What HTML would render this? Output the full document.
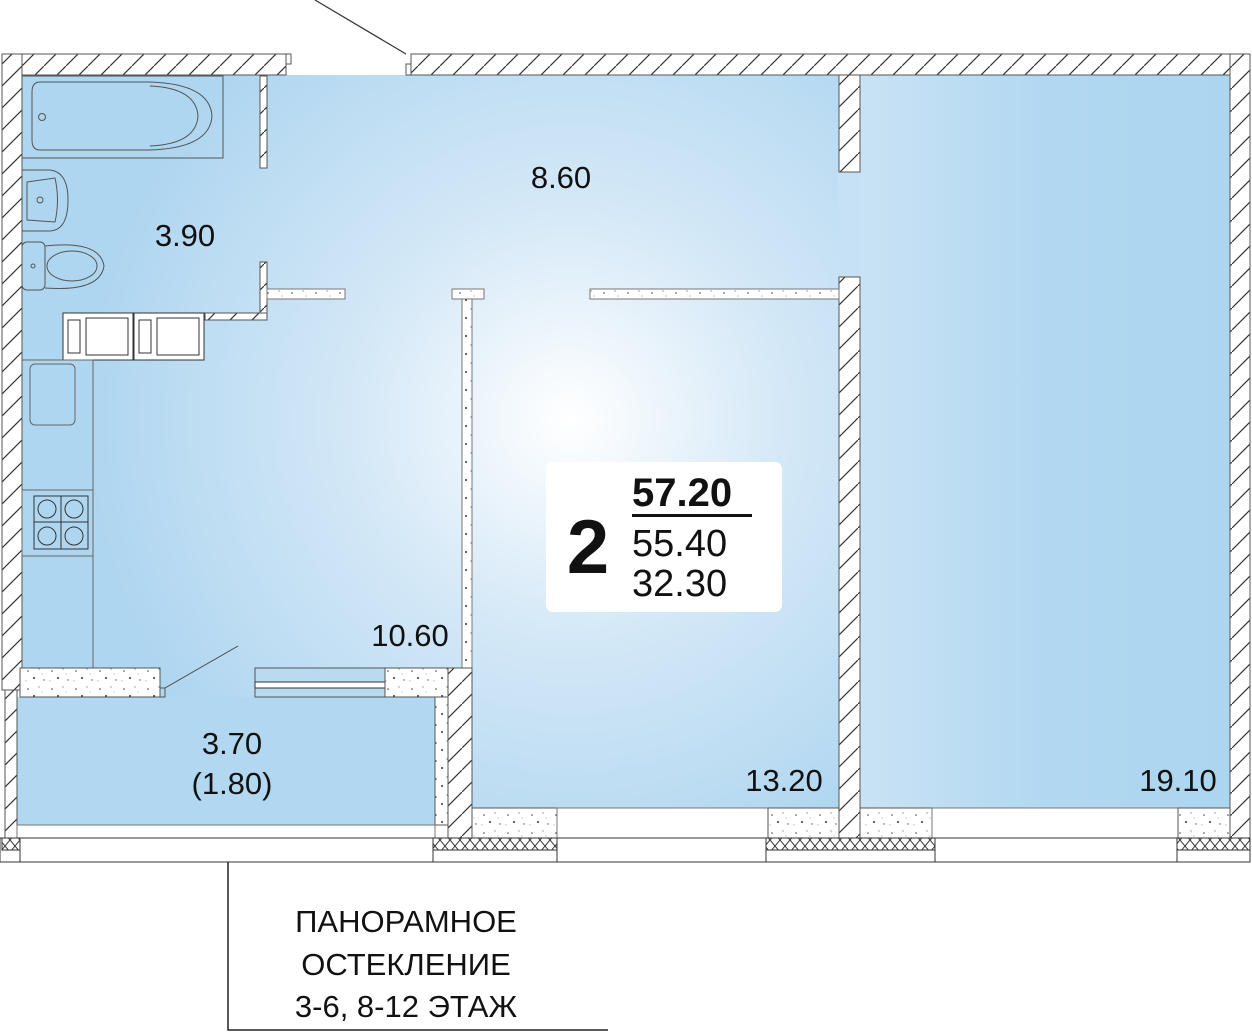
<!DOCTYPE html>
<html><head><meta charset="utf-8"><style>
html,body{margin:0;padding:0;background:#fff;width:1252px;height:1032px;overflow:hidden}
svg{display:block}
text{font-family:"Liberation Sans","DejaVu Sans",sans-serif;fill:#111}
</style></head><body>
<svg width="1252" height="1032" viewBox="0 0 1252 1032" xmlns="http://www.w3.org/2000/svg">
<defs>
<pattern id="h" patternUnits="userSpaceOnUse" width="22" height="22"><rect width="22" height="22" fill="#fff"/><path d="M-2 24 L24 -2" stroke="#333" stroke-width="1.2"/></pattern>
<pattern id="x" patternUnits="userSpaceOnUse" width="10" height="12"><rect width="10" height="12" fill="#fff"/><path d="M0 0 L10 12 M10 0 L0 12" stroke="#333" stroke-width="1"/></pattern>
<pattern id="c" patternUnits="userSpaceOnUse" width="24" height="18"><rect width="24" height="18" fill="#fff"/><circle cx="4" cy="5" r=".8" fill="#444"/><circle cx="15" cy="3" r=".6" fill="#666"/><circle cx="10" cy="12" r="1" fill="#333"/><circle cx="20" cy="14" r=".7" fill="#555"/><circle cx="2" cy="15" r=".5" fill="#777"/><circle cx="18" cy="8" r=".5" fill="#777"/></pattern>
<radialGradient id="g" cx="570" cy="420" r="480" gradientUnits="userSpaceOnUse"><stop offset="0" stop-color="#ffffff"/><stop offset=".45" stop-color="#d4e8f7"/><stop offset="1" stop-color="#afd6f0"/></radialGradient>
<linearGradient id="g2" x1="0" x2="1" y1="0" y2="0"><stop offset="0" stop-color="#c9e2f5"/><stop offset=".5" stop-color="#b2d8f1"/><stop offset="1" stop-color="#acd5f0"/></linearGradient>
</defs>
<!-- fills -->
<rect x="22" y="75" width="817" height="733" fill="url(#g)"/>
<rect x="838" y="170" width="24" height="110" fill="#c6e1f5"/>
<rect x="860" y="75" width="370" height="733" fill="url(#g2)"/>
<rect x="17" y="697" width="431" height="128" fill="#b2d8f1"/>
<!-- top walls -->
<rect x="2" y="54" width="284" height="21" fill="url(#h)" stroke="#555"/>
<rect x="286" y="54" width="5" height="10" fill="#fff" stroke="#555"/>
<rect x="406" y="64" width="5" height="11" fill="#fff" stroke="#555"/>
<rect x="411" y="54" width="839" height="21" fill="url(#h)" stroke="#555"/>
<line x1="315" y1="0" x2="406" y2="54" stroke="#333" stroke-width="1.2"/>
<!-- left wall -->
<rect x="2" y="54" width="20" height="636" fill="url(#h)" stroke="#555"/>
<rect x="5" y="690" width="12" height="148" fill="url(#h)" stroke="#555"/>
<!-- right wall -->
<rect x="1230" y="54" width="20" height="784" fill="url(#h)" stroke="#555"/>
<!-- interior walls -->
<rect x="839" y="75" width="21" height="97" fill="url(#h)" stroke="#555"/>
<rect x="839" y="277" width="21" height="561" fill="url(#h)" stroke="#555"/>
<rect x="260" y="76" width="7" height="92" fill="url(#h)" stroke="#555"/>
<rect x="260" y="262" width="7" height="57" fill="url(#h)" stroke="#555"/>
<rect x="205" y="313" width="62" height="7" fill="url(#h)" stroke="#555"/>
<rect x="267" y="289" width="78" height="10" fill="url(#c)" stroke="#777"/>
<rect x="452" y="289" width="32" height="10" fill="url(#c)" stroke="#777"/>
<rect x="590" y="289" width="249" height="10" fill="url(#c)" stroke="#777"/>
<rect x="462" y="299" width="10" height="369" fill="url(#c)" stroke="#777"/>
<!-- bathroom fixtures -->
<g fill="none" stroke="#555" stroke-width="1">
<rect x="22" y="76" width="201" height="82"/>
<path d="M40 82 Q32 82 32 92 L32 140 Q32 150 40 150 L150 150 Q210 148 212 116 Q210 84 150 82 Z"/>
<path d="M150 86 Q196 88 198 116 Q196 144 150 146"/>
<circle cx="42" cy="117" r="3.5"/>
<path d="M22 170 L50 170 Q68 172 68 200 Q68 230 50 231 L22 231"/>
<path d="M27 182 L55 178 Q60 200 55 222 L27 220 Z"/>
<circle cx="40" cy="200" r="3"/>
<rect x="22" y="242" width="23" height="48" rx="5"/>
<path d="M45 246 Q100 240 104 266 Q100 292 45 288"/>
<ellipse cx="72" cy="266" rx="25" ry="15"/>
<circle cx="33" cy="266" r="2"/>
</g>
<!-- ventilation shafts -->
<g stroke="#333" fill="#fff">
<rect x="63" y="313" width="70" height="47"/>
<rect x="134" y="313" width="70" height="47"/>
<rect x="86" y="318" width="42" height="37" fill="none"/>
<rect x="157" y="318" width="42" height="37" fill="none"/>
<rect x="68" y="320" width="12" height="33" fill="none"/>
<rect x="139" y="320" width="12" height="33" fill="none"/>
</g>
<!-- kitchen -->
<g fill="none" stroke="#666" stroke-width="1">
<line x1="93" y1="360" x2="93" y2="668"/>
<line x1="22" y1="360" x2="93" y2="360"/>
<rect x="30" y="364" width="45" height="61" rx="5"/>
<rect x="22" y="490" width="71" height="66"/>
<rect x="34" y="496" width="54" height="53" stroke="#333"/>
<line x1="61" y1="496" x2="61" y2="549" stroke="#333"/>
<line x1="34" y1="522" x2="88" y2="522" stroke="#333"/>
<circle cx="47" cy="509" r="9" stroke="#333"/><circle cx="74" cy="509" r="9" stroke="#333"/>
<circle cx="47" cy="536" r="9" stroke="#333"/><circle cx="74" cy="536" r="9" stroke="#333"/>
</g>
<!-- balcony partition -->
<rect x="20" y="668" width="140" height="29" fill="url(#c)" stroke="#555"/>
<rect x="160" y="688" width="5" height="9" fill="none" stroke="#555"/>
<line x1="165" y1="688" x2="238" y2="646" stroke="#444"/>
<rect x="255" y="668" width="130" height="29" fill="#b8dbf2" stroke="#555"/>
<rect x="255" y="682" width="130" height="6" fill="#fff" stroke="#333"/>
<rect x="385" y="668" width="63" height="29" fill="url(#c)" stroke="#555"/>
<rect x="448" y="668" width="24" height="170" fill="url(#h)" stroke="#555"/>
<rect x="435" y="697" width="13" height="128" fill="url(#c)" stroke="#555"/>
<!-- bottom -->
<rect x="17" y="825" width="418" height="13" fill="#fff" stroke="#777"/>
<rect x="472" y="808" width="85" height="30" fill="url(#c)" stroke="#555"/>
<rect x="557" y="808" width="211" height="30" fill="#fff" stroke="#777"/>
<rect x="768" y="808" width="71" height="30" fill="url(#c)" stroke="#555"/>
<rect x="860" y="808" width="72" height="30" fill="url(#c)" stroke="#555"/>
<rect x="932" y="808" width="246" height="30" fill="#fff" stroke="#777"/>
<rect x="1178" y="808" width="52" height="30" fill="url(#c)" stroke="#555"/>
<rect x="0" y="838" width="1250" height="24" fill="#fff" stroke="#333"/>
<rect x="2" y="838" width="18" height="12" fill="url(#x)" stroke="#333"/>
<rect x="433" y="838" width="124" height="12" fill="url(#x)" stroke="#333"/>
<rect x="766" y="838" width="169" height="12" fill="url(#x)" stroke="#333"/>
<rect x="1177" y="838" width="73" height="12" fill="url(#x)" stroke="#333"/>
<g stroke="#333"><line x1="20" y1="838" x2="20" y2="862"/><line x1="433" y1="838" x2="433" y2="862"/><line x1="557" y1="838" x2="557" y2="862"/><line x1="766" y1="838" x2="766" y2="862"/><line x1="935" y1="838" x2="935" y2="862"/><line x1="1177" y1="838" x2="1177" y2="862"/></g>
<!-- callout -->
<polyline points="228,862 228,1030 608,1030" fill="none" stroke="#222" stroke-width="1.5"/>
<g font-size="31" text-anchor="middle">
<text x="406" y="932">ПАНОРАМНОЕ</text>
<text x="406" y="975">ОСТЕКЛЕНИЕ</text>
<text x="406" y="1017">3-6, 8-12 ЭТАЖ</text>
</g>
<!-- labels -->
<g font-size="31" text-anchor="middle">
<text x="561" y="188">8.60</text>
<text x="185" y="246">3.90</text>
<text x="410" y="646">10.60</text>
<text x="232" y="754">3.70</text>
<text x="232" y="794">(1.80)</text>
<text x="784" y="791">13.20</text>
<text x="1178" y="791">19.10</text>
</g>
<!-- info box -->
<rect x="546" y="462" width="236" height="150" rx="7" fill="#fff"/>
<text x="588" y="573" font-size="76" font-weight="bold" text-anchor="middle">2</text>
<text x="632" y="506" font-size="40" font-weight="bold">57.20</text>
<rect x="632" y="514" width="120" height="3" fill="#111"/>
<text x="632" y="556" font-size="38">55.40</text>
<text x="632" y="596" font-size="38">32.30</text>
</svg>
</body></html>
